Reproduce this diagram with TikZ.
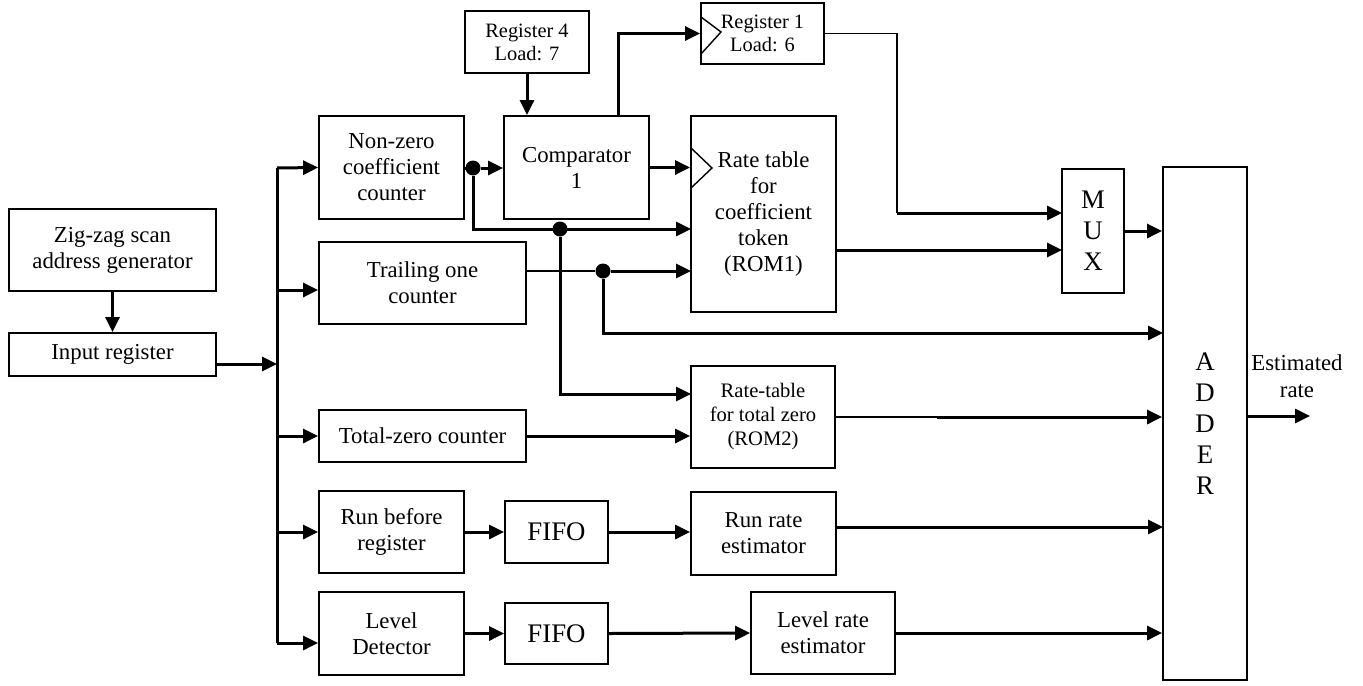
\documentclass[tikz,border=0pt]{standalone}
\usepackage{fontspec}
\setmainfont{Liberation Serif}
\usetikzlibrary{arrows.meta}
\begin{document}
\begin{tikzpicture}[x=0.5pt,y=-0.5pt,
 box/.style={draw, line width=0.9pt, align=center, inner sep=0pt, font=\fontsize{11.4}{13}\selectfont},
 small/.style={font=\fontsize{10.2}{11.5}\selectfont},
 big/.style={font=\fontsize{13.4}{15.5}\selectfont},
 arr/.style={line width=1.5pt, -{Triangle[length=7.5pt,width=7pt]}},
 ln/.style={line width=1.5pt},
 thinln/.style={line width=0.7pt},
 dot/.style={circle, fill, inner sep=0pt, minimum size=7.5pt}]
\useasboundingbox (0,0) rectangle (1363,685);

% boxes
\node[box, minimum width=103.5pt, minimum height=41pt] (zig) at (112.5,250) {Zig-zag scan\\address generator};
\node[box, minimum width=103.5pt, minimum height=21.5pt] (inp) at (112.5,354.5) {Input register};
\node[box, minimum width=72.5pt, minimum height=51.5pt] (nz) at (391.5,167.5) {Non-zero\\coefficient\\counter};
\node[box, minimum width=72.5pt, minimum height=51.5pt] (comp) at (576.5,167.5) {Comparator\\1};
\node[box, small, minimum width=62pt, minimum height=31pt] (reg4) at (527,42) {Register 4\\Load: 7};
\node[box, small, minimum width=61.5pt, minimum height=30.5pt] (reg1) at (762.5,33.5) {Register 1\\Load: 6};
\node[box, minimum width=72.5pt, minimum height=98pt] (rom1) at (763.5,214) {Rate table\\for\\coefficient\\token\\(ROM1)};
\node[box, big, minimum width=31pt, minimum height=62pt] (mux) at (1093,231) {M\\U\\X};
\node[box, minimum width=103.5pt, minimum height=41pt] (tr) at (422.5,283) {Trailing one\\counter};
\node[box, font=\fontsize{10.3}{12}\selectfont, minimum width=72pt, minimum height=51pt] (rom2) at (763,417) {Rate-table\\for total zero\\(ROM2)};
\node[box, minimum width=103.5pt, minimum height=26pt] (tz) at (422.5,436) {Total-zero counter};
\node[box, minimum width=72.5pt, minimum height=41pt] (rb) at (391.5,532) {Run before\\register};
\node[box, big, minimum width=51.5pt, minimum height=31pt] (fifo1) at (556.5,532) {FIFO};
\node[box, minimum width=72.5pt, minimum height=41.5pt] (rr) at (763.5,533.5) {Run rate\\estimator};
\node[box, minimum width=72.5pt, minimum height=41.5pt] (ld) at (391.5,633.5) {Level\\Detector};
\node[box, big, minimum width=51.5pt, minimum height=30.5pt] (fifo2) at (556.5,633.5) {FIFO};
\node[box, minimum width=72pt, minimum height=41pt] (lr) at (823,633) {Level rate\\estimator};
\node[box, big, minimum width=42pt, minimum height=256.5pt] (adder) at (1205,423.5) {A\\D\\D\\E\\R};
\node[font=\fontsize{11.4}{13.5}\selectfont, align=center, inner sep=0pt] (est) at (1297,376) {Estimated\\rate};

% clock marks
\draw[thinln] (701,17) -- (721,32) -- (701,54);
\draw[thinln] (691,148) -- (712,168) -- (691,188);

% coordinates
\coordinate (bustop) at (277,168);
\coordinate (busbot) at (277,643);
\coordinate (bin) at (277,364);
\coordinate (btr) at (277,290);
\coordinate (r1b) at (691,229);
\coordinate (r1c) at (691,271);
\coordinate (r2a) at (691,394);
\coordinate (ad2) at (1163,333);
\coordinate (ad4) at (1163,527);
\coordinate (c2r) at (618,116);
\coordinate (k1) at (897,213);
\coordinate (m1) at (1062,213);
\coordinate (m2) at (1062,250);
\coordinate (r2k) at (937,417);
\coordinate (out) at (1310,416);

% input side
\draw[arr] (zig) -- (inp);
\draw[arr] (inp.east |- bin) -- (bin);
\draw[ln] (bustop) -- (busbot);
\draw[arr] (bustop) -- (nz.west);
\draw[arr] (btr) -- (btr -| tr.west);
\draw[arr] (tz.west -| bustop) -- (tz.west);
\draw[arr] (rb.west -| bustop) -- (rb.west);
\draw[arr] (busbot) -- (busbot -| ld.west);

% non-zero counter
\node[dot] (d1) at (473,168) {};
\node[dot] (d2) at (560,229) {};
\node[dot] (d3) at (603,271) {};
\draw[ln] (nz.east |- d1) -- (d1);
\draw[arr] (d1) -- (d1 -| comp.west);
\draw[arr] (d1) |- (r1b);
\draw[arr] (d2) |- (r2a);

% trailing one
\draw[line width=1pt] (tr.east |- d3) -- (d3);
\draw[arr] (d3) -- (r1c);
\draw[arr] (d3) |- (ad2);

% comparator and registers
\draw[arr] (reg4) -- (reg4 |- comp.north);
\draw[arr] (comp.east) -- (comp.east -| rom1.west);
\draw[arr] (c2r) |- (reg1.west);
\draw[thinln] (reg1.east) -| (k1);
\draw[arr] (k1) -- (m1);
\draw[arr] (rom1.east |- m2) -- (m2);
\draw[arr] (mux.east) -- (mux.east -| adder.west);

% total zero
\draw[arr] (tz.east) -- (tz.east -| rom2.west);
\draw[thinln] (rom2.east) -- (r2k);
\draw[arr] (r2k) -- (r2k -| adder.west);

% run / level
\draw[arr] (rb.east) -- (fifo1.west);
\draw[arr] (fifo1.east) -- (fifo1.east -| rr.west);
\draw[arr] (rr.east |- ad4) -- (ad4);
\draw[arr] (ld.east |- fifo2.west) -- (fifo2.west);
\draw[arr] (fifo2.east) -- (lr.west);
\draw[arr] (lr.east) -- (lr.east -| adder.west);

% output
\draw[arr] (adder.east |- out) -- (out);
\end{tikzpicture}
\end{document}
